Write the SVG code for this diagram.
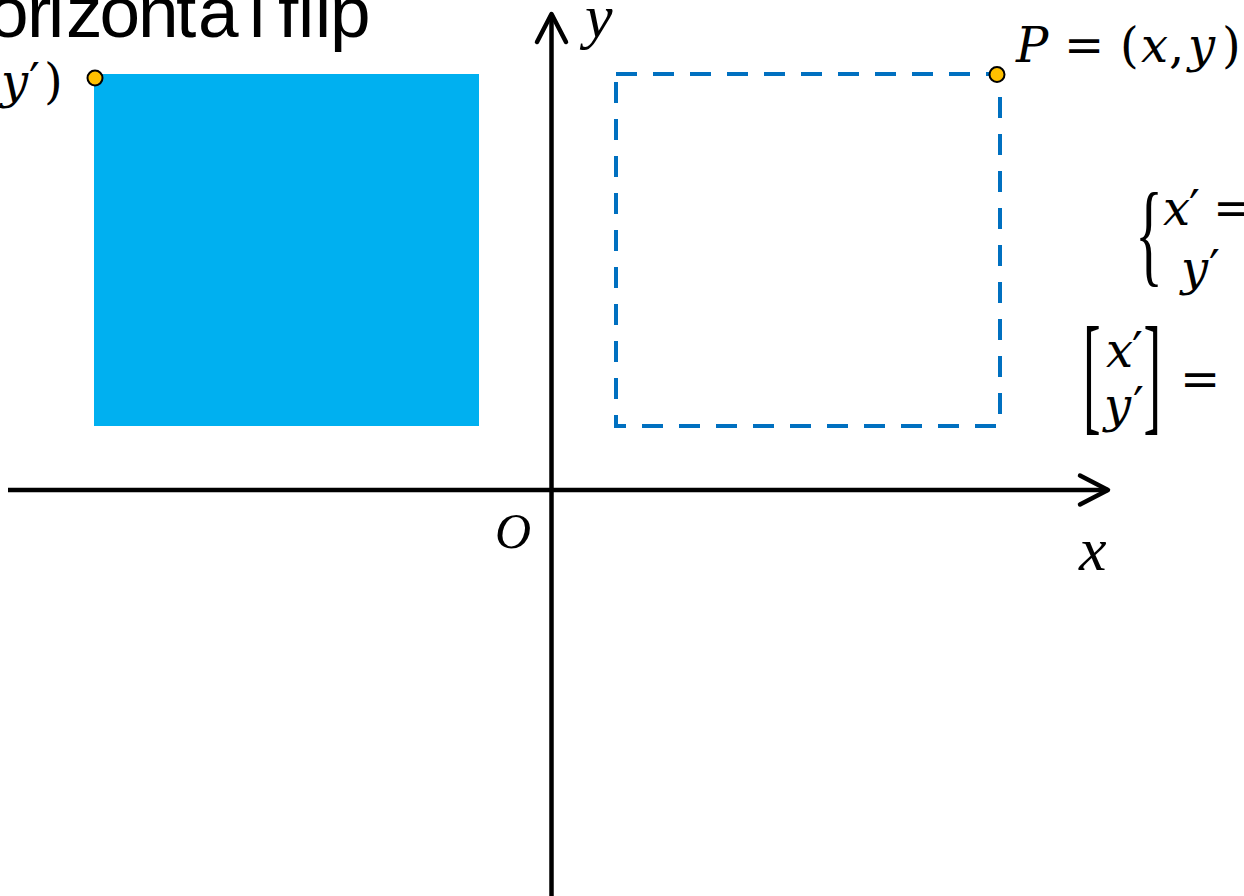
<svg xmlns="http://www.w3.org/2000/svg" width="1244" height="896" viewBox="0 0 1244 896">
<style>
.title{font-family:"Liberation Sans",Arial,sans-serif;font-size:73px;fill:#000}
.m{font-family:"DejaVu Serif","Liberation Serif",serif;font-size:48px;fill:#000}
.d{font-family:"Liberation Serif","Times New Roman",serif;font-size:53px;fill:#000}
.t{font-family:"Liberation Serif","Times New Roman",serif;font-style:italic;fill:#000}
.i{font-style:italic}
.ax{stroke:#000;stroke-width:4.5;fill:none}
.dot{fill:#FFC000;stroke:#000;stroke-width:2}
</style>
<defs>
<marker id="arr" markerUnits="userSpaceOnUse" markerWidth="40" markerHeight="40" viewBox="-32 -20 40 40" refX="0" refY="0" orient="auto">
<path d="M-28,-14.5 L0,0 L-28,14.5" fill="none" stroke="#000" stroke-width="4.5" stroke-linecap="round" stroke-linejoin="round"/>
</marker>
</defs>
<rect width="1244" height="896" fill="#fff"/>
<text class="title" y="36.5" x="-12 27 48 66 99.5 138 176 198 249 263 278 298 315 330">orizontal flip</text>
<g id="filled-square">
<rect x="94" y="74" width="385" height="352" fill="#00B0F0"/>
</g>
<g id="dashed-square">
<path d="M616,74 H1000 V426 H616 V74" fill="none" stroke="#0070C0" stroke-width="4" stroke-dasharray="21 16"/>
</g>
<g id="connectors">
<line class="ax" x1="8" y1="490" x2="1108" y2="490" marker-end="url(#arr)"/>
<line class="ax" x1="551.5" y1="896" x2="551.5" y2="14" marker-end="url(#arr)"/>
</g>
<g id="point-p-prime">
<circle class="dot" cx="95" cy="78" r="7.5"/>
<text class="m" y="98"><tspan class="i" x="1">y</tspan><tspan x="29">′</tspan><tspan x="44">)</tspan></text>
</g>
<g id="point-p">
<circle class="dot" cx="997" cy="74.5" r="7.5"/>
<text class="m" y="62"><tspan class="i" x="1016">P</tspan><tspan x="1064">=</tspan><tspan x="1120">(</tspan><tspan class="i" x="1141">x</tspan><tspan x="1169">,</tspan><tspan class="i" x="1188">y</tspan><tspan x="1222">)</tspan></text>
</g>
<g id="axis-labels">
<text class="t" x="585" y="37" style="font-size:62px">y</text>
<text class="t" x="495" y="548" style="font-size:50px">O</text>
<text class="t" x="1079" y="570" style="font-size:62px">x</text>
</g>
<g id="equations">
<text class="d" transform="translate(1135,272) scale(1.1,2.15)">{</text>
<text class="m" y="225"><tspan class="i" x="1163">x</tspan><tspan x="1189">′</tspan><tspan x="1213">=</tspan></text>
<text class="m" y="285"><tspan class="i" x="1181">y</tspan><tspan x="1209">′</tspan></text>
<text class="d" transform="translate(1083,416.7) scale(1,2.47)">[</text>
<text class="d" transform="translate(1143.5,416.7) scale(1,2.47)">]</text>
<text class="m" y="367"><tspan class="i" x="1106">x</tspan><tspan x="1132">′</tspan></text>
<text class="m" y="422"><tspan class="i" x="1104">y</tspan><tspan x="1133">′</tspan></text>
<text class="m" x="1180" y="396">=</text>
</g>
</svg>
